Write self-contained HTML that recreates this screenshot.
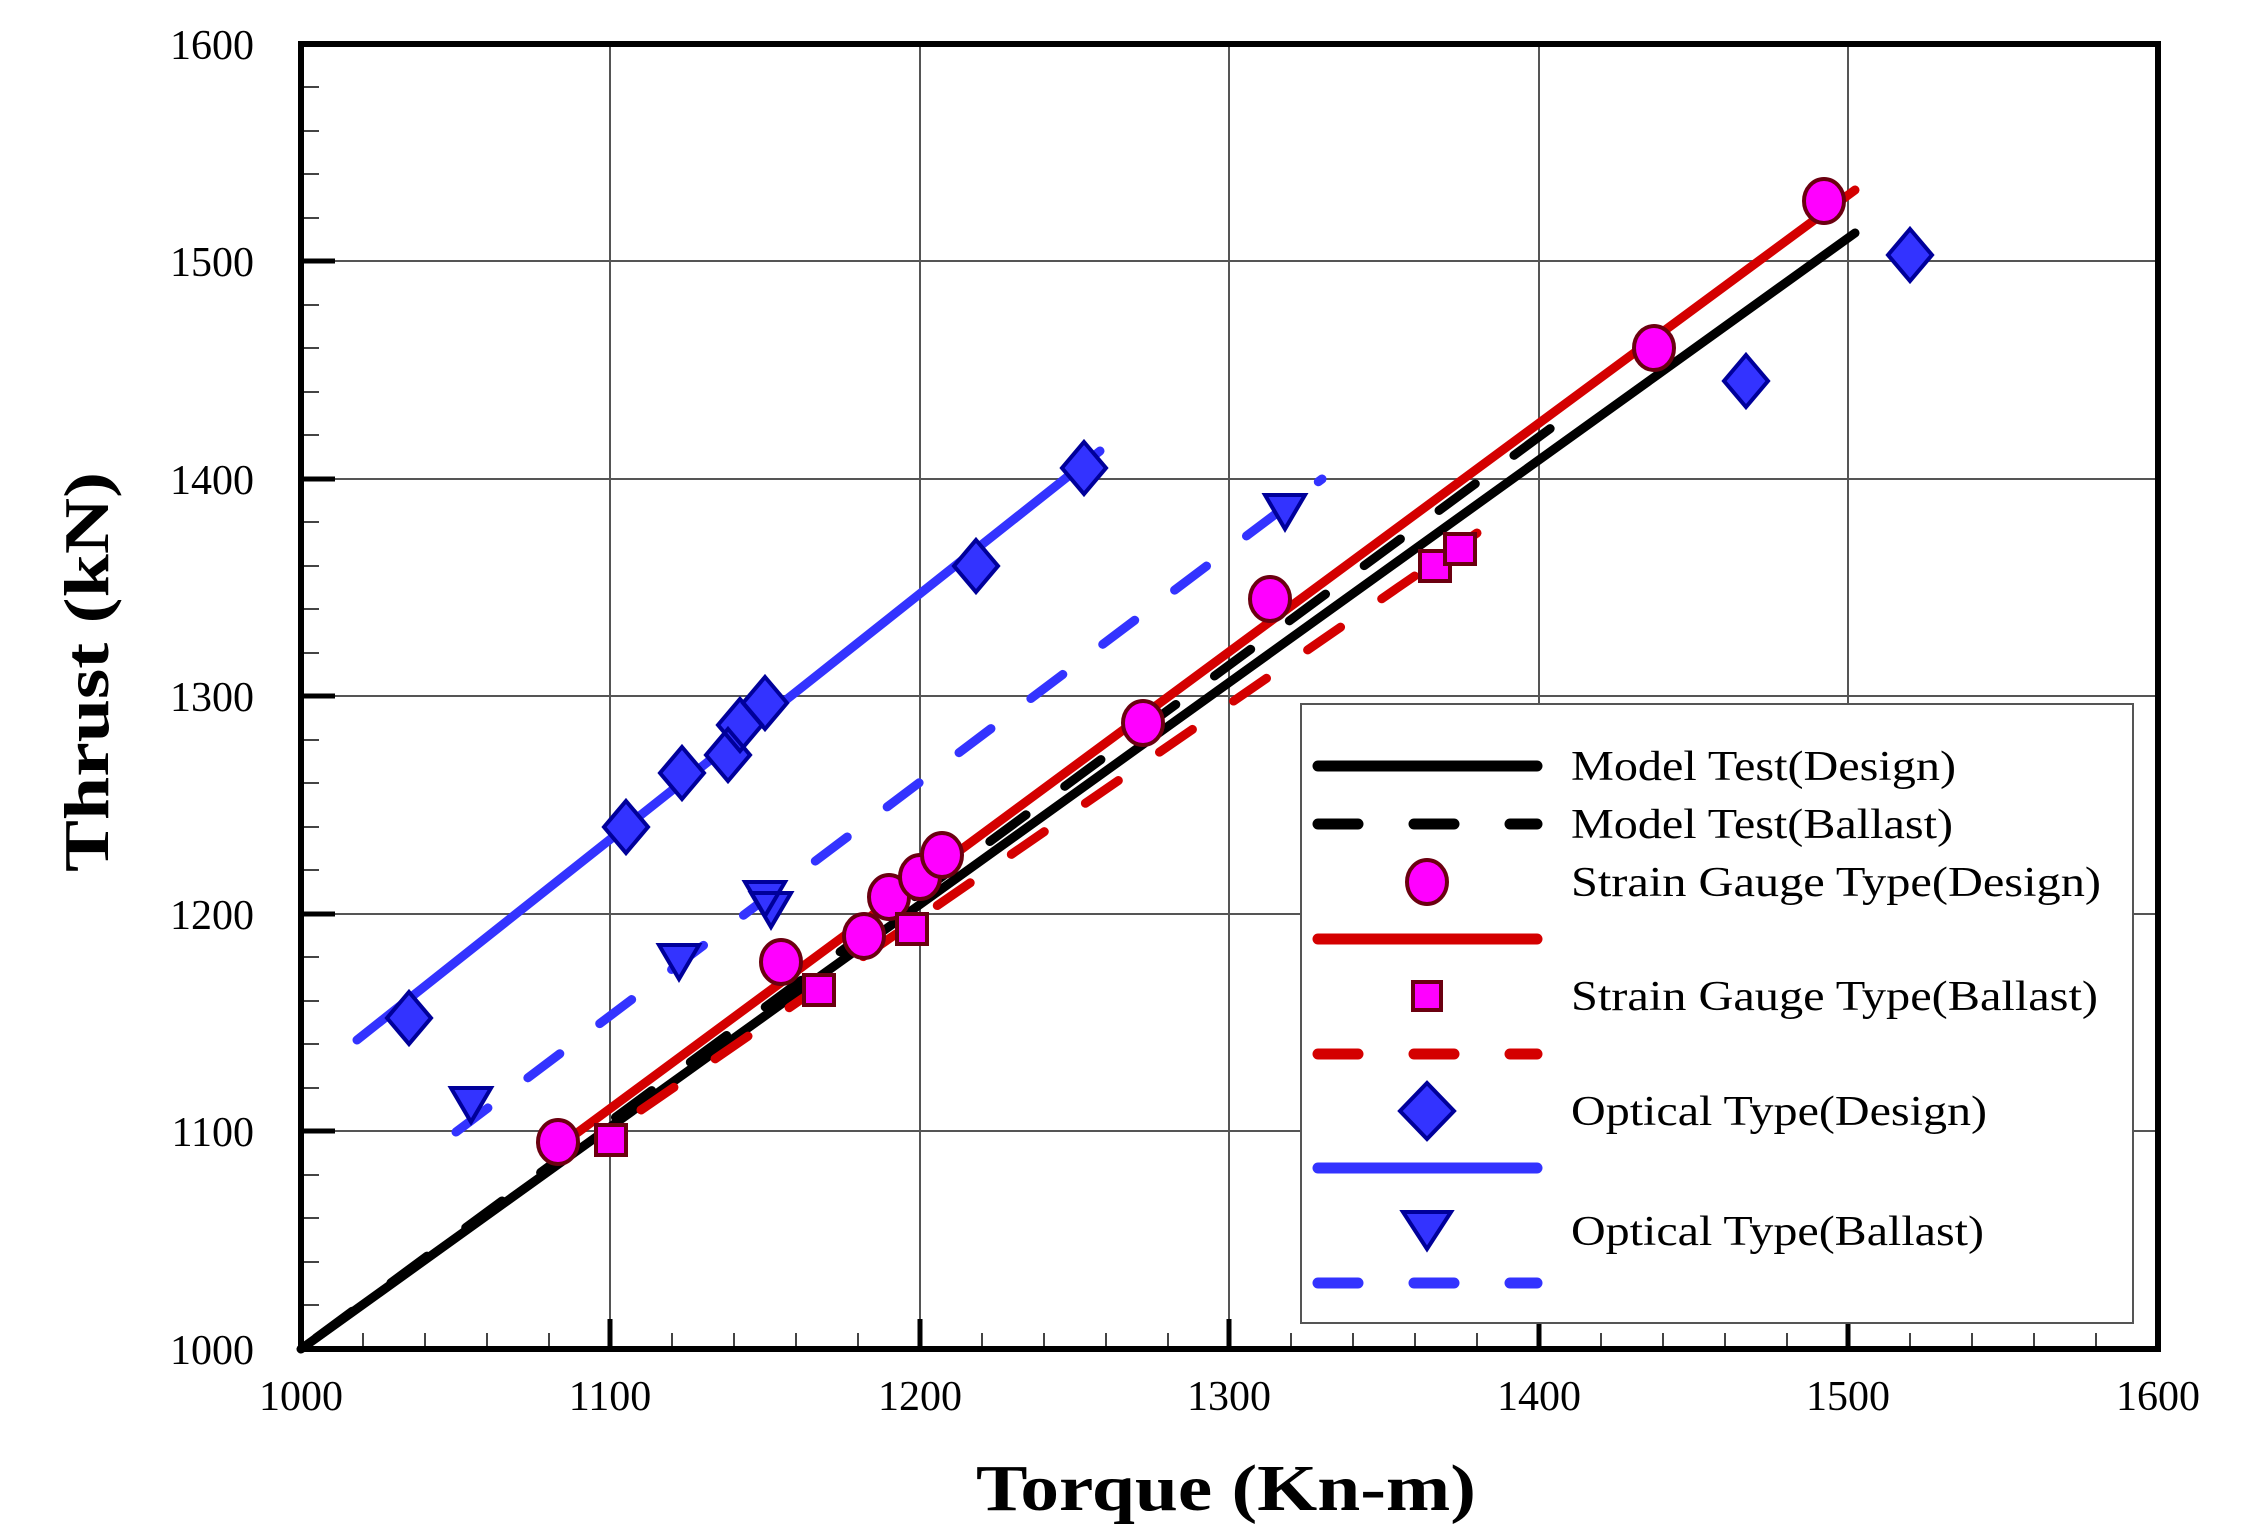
<!DOCTYPE html>
<html><head><meta charset="utf-8"><style>
html,body{margin:0;padding:0;background:#fff}
svg{display:block}
text{font-family:"Liberation Serif",serif;fill:#000}
</style></head><body>
<svg width="2256" height="1538" viewBox="0 0 2256 1538" xmlns="http://www.w3.org/2000/svg">
<rect width="2256" height="1538" fill="#fff"/>
<!-- grid -->
<g stroke="#555" stroke-width="2">
<line x1="610" y1="44" x2="610" y2="1349"/><line x1="920" y1="44" x2="920" y2="1349"/><line x1="1229" y1="44" x2="1229" y2="1349"/><line x1="1539" y1="44" x2="1539" y2="1349"/><line x1="1848" y1="44" x2="1848" y2="1349"/>
<line x1="301" y1="261" x2="2158" y2="261"/><line x1="301" y1="479" x2="2158" y2="479"/><line x1="301" y1="696" x2="2158" y2="696"/><line x1="301" y1="914" x2="2158" y2="914"/><line x1="301" y1="1131" x2="2158" y2="1131"/>
</g>
<!-- minor ticks -->
<g stroke="#444" stroke-width="2">
<path d="M363 1349v-16M425 1349v-16M487 1349v-16M549 1349v-16M672 1349v-16M734 1349v-16M796 1349v-16M858 1349v-16M982 1349v-16M1044 1349v-16M1106 1349v-16M1168 1349v-16M1291 1349v-16M1353 1349v-16M1415 1349v-16M1477 1349v-16M1601 1349v-16M1663 1349v-16M1725 1349v-16M1787 1349v-16M1910 1349v-16M1972 1349v-16M2034 1349v-16M2096 1349v-16"/>
<path d="M301 87h18M301 131h18M301 174h18M301 218h18M301 305h18M301 348h18M301 392h18M301 435h18M301 522h18M301 566h18M301 609h18M301 653h18M301 740h18M301 783h18M301 827h18M301 870h18M301 957h18M301 1001h18M301 1044h18M301 1088h18M301 1175h18M301 1218h18M301 1262h18M301 1305h18"/>
</g>
<g stroke="#000" stroke-width="5">
<path d="M610 1349v-30M920 1349v-30M1229 1349v-30M1539 1349v-30M1848 1349v-30"/>
<path d="M301 261h34M301 479h34M301 696h34M301 914h34M301 1131h34"/>
</g>
<!-- series lines -->
<g stroke-width="9" stroke-linecap="round" fill="none">
<line x1="301" y1="1349" x2="1855" y2="233" stroke="#000"/>
<line x1="316" y1="1338" x2="1570" y2="414" stroke="#000" stroke-dasharray="45 48"/>
<line x1="558" y1="1147" x2="1855" y2="190" stroke="#d40000"/>
<line x1="641" y1="1110" x2="1477" y2="533" stroke="#d40000" stroke-dasharray="40 50"/>
<line x1="357" y1="1040" x2="1100" y2="451" stroke="#3333ff"/>
<line x1="456" y1="1132" x2="1322" y2="479" stroke="#3333ff" stroke-dasharray="40 50"/>
</g>
<!-- markers -->
<g fill="#ff00ff" stroke="#6b0010" stroke-width="4">
<ellipse cx="558" cy="1142" rx="20" ry="22"/><ellipse cx="781" cy="962" rx="20" ry="22"/><ellipse cx="864" cy="936" rx="20" ry="22"/><ellipse cx="889" cy="897" rx="20" ry="22"/><ellipse cx="920" cy="877" rx="20" ry="22"/><ellipse cx="942" cy="855" rx="20" ry="22"/><ellipse cx="1143" cy="723" rx="20" ry="22"/><ellipse cx="1270" cy="599" rx="20" ry="22"/><ellipse cx="1654" cy="348" rx="20" ry="22"/><ellipse cx="1824" cy="201" rx="20" ry="22"/>
<rect x="596" y="1125" width="30" height="30"/><rect x="804" y="975" width="30" height="30"/><rect x="897" y="914" width="30" height="30"/><rect x="1420" y="551" width="30" height="30"/><rect x="1445" y="534" width="30" height="30"/>
</g>
<g fill="#3333ff" stroke="#00009a" stroke-width="4">
<path d="M409 992l22 26-22 26-22-26z M626 801l22 26-22 26-22-26z M682 747l22 26-22 26-22-26z M728 729l22 26-22 26-22-26z M740 699l22 26-22 26-22-26z M765 677l22 26-22 26-22-26z M976 540l22 26-22 26-22-26z M1084 442l22 26-22 26-22-26z M1746 355l22 26-22 26-22-26z M1910 229l22 26-22 26-22-26z"/>
<path d="M451 1088h40l-20 34z M659 945h40l-20 34z M745 882h40l-20 34z M751 893h40l-20 34z M1265 495h40l-20 34z"/>
</g>
<!-- frame -->
<rect x="301" y="44" width="1857" height="1305" fill="none" stroke="#000" stroke-width="6"/>
<!-- legend -->
<rect x="1301" y="704" width="832" height="619" fill="#fff" stroke="#555" stroke-width="2"/>
<g stroke-width="11" stroke-linecap="round" fill="none">
<line x1="1318" y1="766" x2="1537" y2="766" stroke="#000"/>
<line x1="1318" y1="824" x2="1537" y2="824" stroke="#000" stroke-dasharray="40 56"/>
<line x1="1318" y1="939" x2="1537" y2="939" stroke="#d40000"/>
<line x1="1318" y1="1054" x2="1537" y2="1054" stroke="#d40000" stroke-dasharray="40 56"/>
<line x1="1318" y1="1168" x2="1537" y2="1168" stroke="#3333ff"/>
<line x1="1318" y1="1283" x2="1537" y2="1283" stroke="#3333ff" stroke-dasharray="40 56"/>
</g>
<g fill="#ff00ff" stroke="#6b0010" stroke-width="4">
<ellipse cx="1427" cy="882" rx="20" ry="22"/>
<rect x="1413" y="982" width="28" height="28"/>
</g>
<g fill="#3333ff" stroke="#00009a" stroke-width="4">
<path d="M1427 1083l27 28-27 28-27-28z"/>
<path d="M1403 1212h48l-24 37z"/>
</g>
<g font-size="42">
<text x="1571" y="780" textLength="385" lengthAdjust="spacingAndGlyphs">Model Test(Design)</text>
<text x="1571" y="838" textLength="382" lengthAdjust="spacingAndGlyphs">Model Test(Ballast)</text>
<text x="1571" y="896" textLength="530" lengthAdjust="spacingAndGlyphs">Strain Gauge Type(Design)</text>
<text x="1571" y="1010" textLength="527" lengthAdjust="spacingAndGlyphs">Strain Gauge Type(Ballast)</text>
<text x="1571" y="1125" textLength="416" lengthAdjust="spacingAndGlyphs">Optical Type(Design)</text>
<text x="1571" y="1245" textLength="413" lengthAdjust="spacingAndGlyphs">Optical Type(Ballast)</text>
</g>
<!-- tick labels -->
<g font-size="42" text-anchor="end">
<text x="254" y="59">1600</text><text x="254" y="276">1500</text><text x="254" y="494">1400</text><text x="254" y="711">1300</text><text x="254" y="929">1200</text><text x="254" y="1146">1100</text><text x="254" y="1364">1000</text>
</g>
<g font-size="42" text-anchor="middle">
<text x="301" y="1410">1000</text><text x="610" y="1410">1100</text><text x="920" y="1410">1200</text><text x="1229" y="1410">1300</text><text x="1539" y="1410">1400</text><text x="1848" y="1410">1500</text><text x="2158" y="1410">1600</text>
</g>
<text x="1226" y="1510" font-size="66" font-weight="bold" text-anchor="middle" textLength="500" lengthAdjust="spacingAndGlyphs">Torque (Kn-m)</text>
<text transform="translate(108,672) rotate(-90)" font-size="64" font-weight="bold" text-anchor="middle" textLength="400" lengthAdjust="spacingAndGlyphs">Thrust (kN)</text>
</svg>
</body></html>
